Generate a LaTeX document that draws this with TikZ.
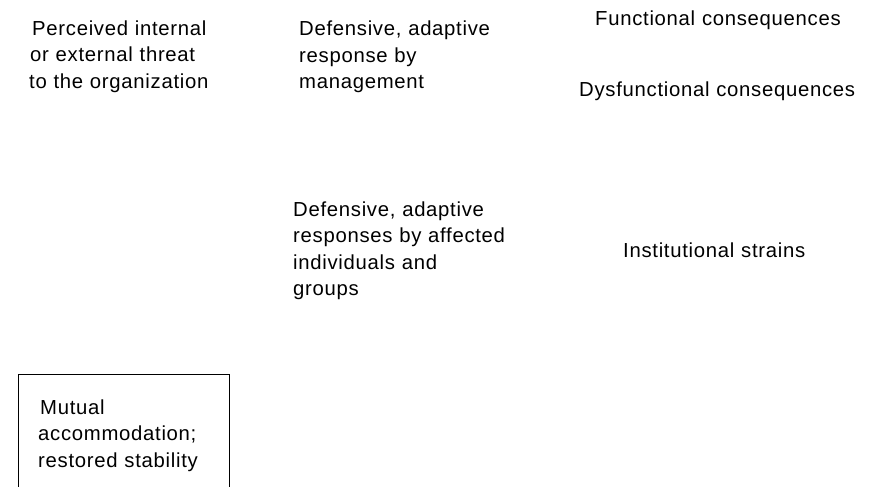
\documentclass[tikz,border=0pt]{standalone}
\usepackage{fontspec}
\setmainfont{Liberation Sans}[LetterSpace=3.5]
\begin{document}
\begin{tikzpicture}[x=1pt,y=-1pt,
  label text/.style={inner sep=0pt, anchor=base west, text width=300pt, align=left,
    font=\fontsize{20.3pt}{26.5pt}\selectfont},
  stabbox/.style={draw, line width=0.8pt, inner sep=0pt, anchor=north west,
    minimum width=211pt, minimum height=160pt}]
  \useasboundingbox (0,0) rectangle (879,487);
  \clip (0,0) rectangle (879,487);

  \node[label text] (threat) at (29,35.5)
    {\hspace*{3pt}Perceived internal\\\hspace*{1pt}or external threat\\to the organization};
  \node[label text] (mgmt) at (299,36)
    {Defensive, adaptive\\response by\\management};
  \node[label text] (func) at (595,26) {Functional consequences};
  \node[label text] (dysf) at (579,96) {Dysfunctional consequences};
  \node[label text] (indiv) at (293,216)
    {Defensive, adaptive\\responses by affected\\individuals and\\groups};
  \node[label text] (strain) at (623,257) {Institutional strains};

  % framed outcome, its lower edge runs past the page
  \node[stabbox] (frame) at (18,374) {};
  \node[label text] (stab) at (38,414)
    {\hspace*{2pt}Mutual\\accommodation;\\restored stability};
\end{tikzpicture}
\end{document}
